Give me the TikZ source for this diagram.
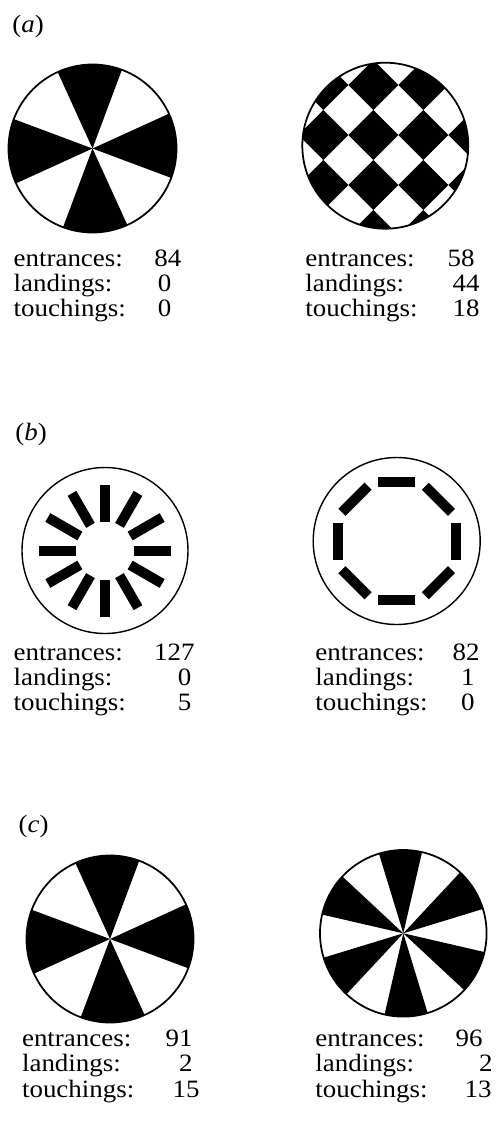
\documentclass[tikz,border=0pt]{standalone}
\usepackage{fontspec}
\setmainfont[FakeStretch=1.08]{Liberation Serif}
\usetikzlibrary{positioning}

\begin{document}
\begin{tikzpicture}[x=0.02cm, y=0.02cm,
      disc/.style={draw, line width=1pt},
      thindisc/.style={draw, line width=0.8pt},
      tag/.style={anchor=base west, inner sep=0pt, font=\fontsize{14.2}{17}\selectfont},
      stat/.style={anchor=base west, inner sep=0pt, text height=0.66em, text depth=0.2em,
        font=\fontsize{14.2}{17}\selectfont},
      count/.style={anchor=base east, inner sep=0pt, text height=0.66em, text depth=0.2em,
        font=\fontsize{14.2}{17}\selectfont}
    ]
    \useasboundingbox (0,0) rectangle (495,-1137);

    % Panel labels
    \node[tag] (tagA) at (12,-32) {(\textit{a})};
    \node[tag] (tagB) at (15,-440) {(\textit{b})};
    \node[tag] (tagC) at (18.3,-832.7) {(\textit{c})};

    % (a) left: eight sectors
    \begin{scope}[shift={(92.5,-148.5)}]
      \foreach \a in {2,92,182,272}
        \fill (0,0) -- (\a-22.5:84) arc[start angle=\a-22.5, end angle=\a+22.5, radius=84] -- cycle;
      \draw[disc] (0,0) circle[radius=84];
    \end{scope}

    % (a) right: checkerboard
    \begin{scope}
      \clip (385.3,-145.7) circle[radius=83];
      \foreach \m in {-6,-4,...,6}
        \foreach \n in {-5,-3,...,7}
          \fill (373.3+25*\m-25,-110-25*\n) -- (373.3+25*\m,-110-25*\n+25)
            -- (373.3+25*\m+25,-110-25*\n) -- (373.3+25*\m,-110-25*\n-25) -- cycle;
    \end{scope}
    \draw[disc] (385.3,-145.7) circle[radius=83];

    % (b) left: twelve radial bars
    \begin{scope}[shift={(105,-550.5)}]
      \foreach \a in {0,30,...,330}
        \fill[rotate=\a] (29,-5) rectangle (66,5);
      \draw[thindisc] (0,0) circle[radius=83];
    \end{scope}

    % (b) right: eight tangential bars
    \begin{scope}[shift={(396.7,-541)}]
      \foreach \a in {0,45,...,315}
        \fill[rotate=\a] (54,-18.5) rectangle (64,18.5);
      \draw[thindisc] (0,0) circle[radius=83.5];
    \end{scope}

    % (c) left: eight sectors
    \begin{scope}[shift={(110,-939)}]
      \foreach \a in {2,92,182,272}
        \fill (0,0) -- (\a-22.5:83.5) arc[start angle=\a-22.5, end angle=\a+22.5, radius=83.5] -- cycle;
      \draw[disc] (0,0) circle[radius=83.5];
    \end{scope}

    % (c) right: twelve sectors
    \begin{scope}[shift={(403.3,-933.3)}]
      \foreach \a in {32,92,...,332}
        \fill (0,0) -- (\a-15:83.3) arc[start angle=\a-15, end angle=\a+15, radius=83.3] -- cycle;
      \draw[disc] (0,0) circle[radius=83.3];
    \end{scope}

    % Counts (a)
    \node[stat] (entAL) at (13.3,-266) {entrances:};
    \node[stat] (lanAL) at (13.3,-291.7) {landings:};
    \node[stat] (touAL) at (13.3,-316.7) {touchings:};
    \node[count] (nEntAL) at (181.7,-266) {84};
    \node[count] (nLanAL) at (171.7,-291.7) {0};
    \node[count] (nTouAL) at (171.7,-316.7) {0};
    \node[stat] (entAR) at (305,-266) {entrances:};
    \node[stat] (lanAR) at (305,-291.7) {landings:};
    \node[stat] (touAR) at (305,-316.7) {touchings:};
    \node[count] (nEntAR) at (475,-266) {58};
    \node[count] (nLanAR) at (480,-291.7) {44};
    \node[count] (nTouAR) at (480,-316.7) {18};

    % Counts (b)
    \node[stat] (entBL) at (13.3,-660) {entrances:};
    \node[stat] (lanBL) at (13.3,-685) {landings:};
    \node[stat] (touBL) at (13.3,-710) {touchings:};
    \node[count] (nEntBL) at (195,-660) {127};
    \node[count] (nLanBL) at (191.7,-685) {0};
    \node[count] (nTouBL) at (191.7,-710) {5};
    \node[stat] (entBR) at (315,-660) {entrances:};
    \node[stat] (lanBR) at (315,-685) {landings:};
    \node[stat] (touBR) at (315,-710) {touchings:};
    \node[count] (nEntBR) at (480,-660) {82};
    \node[count] (nLanBR) at (475,-685) {1};
    \node[count] (nTouBR) at (475,-710) {0};

    % Counts (c)
    \node[stat] (entCL) at (21.7,-1046) {entrances:};
    \node[stat] (lanCL) at (21.7,-1071.7) {landings:};
    \node[stat] (touCL) at (21.7,-1097) {touchings:};
    \node[count] (nEntCL) at (193,-1046) {91};
    \node[count] (nLanCL) at (193,-1071.7) {2};
    \node[count] (nTouCL) at (200,-1097) {15};
    \node[stat] (entCR) at (315,-1046) {entrances:};
    \node[stat] (lanCR) at (315,-1071.7) {landings:};
    \node[stat] (touCR) at (315,-1097) {touchings:};
    \node[count] (nEntCR) at (483,-1046) {96};
    \node[count] (nLanCR) at (493,-1071.7) {2};
    \node[count] (nTouCR) at (492,-1097) {13};

\end{tikzpicture}
\end{document}
